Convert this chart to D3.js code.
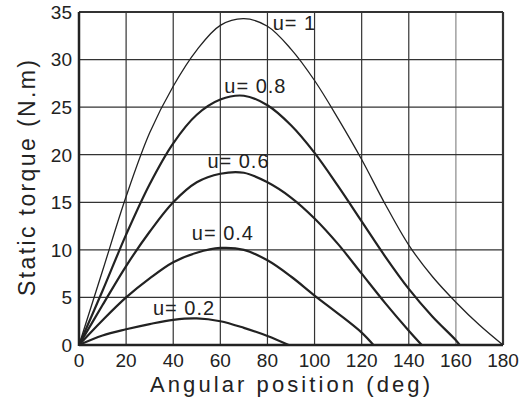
<!DOCTYPE html>
<html>
<head>
<meta charset="utf-8">
<script src="https://cdn.jsdelivr.net/npm/d3@7"></script>
<style>
  body { margin: 0; background: #fff; }
  text { font-family: "Liberation Sans", Arial, sans-serif; fill: #222; }
</style>
</head>
<body>
<div id="chart"></div>
<script>
// data: [angle (deg), torque (N.m)]
const u1 = [[0,0],[10,7.8],[20,15.6],[30,22.3],[40,27.2],[50,31.0],[60,33.6],[70,34.3],[80,33.5],[90,31.1],[100,27.8],[110,23.8],[120,19.5],[130,14.8],[140,10.5],[150,7.2],[160,4.5],[170,2.1],[180,0]];
const u08 = [[0,0],[10,5.7],[20,11.6],[30,16.9],[40,21.2],[50,24.2],[60,25.8],[70,26.2],[80,25.2],[90,23.1],[100,20.2],[110,16.7],[120,13.0],[130,9.3],[140,5.9],[150,3.0],[160,0.5],[161.6,0]];
const u06 = [[0,0],[10,4.2],[20,8.3],[30,11.9],[40,15.0],[50,17.1],[60,18.0],[70,18.1],[80,17.1],[90,15.5],[100,13.3],[110,10.6],[120,7.5],[130,4.4],[140,1.5],[145.5,0]];
const u04 = [[0,0],[10,2.6],[20,5.0],[30,7.0],[40,8.7],[50,9.7],[60,10.2],[70,10.0],[80,8.9],[90,7.2],[100,5.2],[110,3.3],[120,1.3],[125,0]];
const u02 = [[0,0],[10,1.0],[20,1.65],[30,2.2],[40,2.65],[50,2.8],[60,2.5],[70,1.8],[80,0.95],[89,0]];

const seriesNames = ["u= 1", "u= 0.8", "u= 0.6", "u= 0.4", "u= 0.2"];
const seriesData = [u1, u08, u06, u04, u02];
// label anchor in data units (angle, torque)
const labelAt = [[82.2,33.1],[61.7,26.5],[54.5,18.6],[47.9,11.0],[31.4,3.15]];

const xTicks = [0,20,40,60,80,100,120,140,160,180];
const yTicks = [0,5,10,15,20,25,30,35];

const W = 521, H = 405;
const m = { left: 79, right: 503, top: 12, bottom: 345 };

const svg = d3.select("#chart").append("svg")
  .attr("width", W).attr("height", H);

const x = d3.scaleLinear().domain([0, 180]).range([m.left, m.right]);
const y = d3.scaleLinear().domain([0, 35]).range([m.bottom, m.top]);

// grid
svg.append("g").selectAll("line").data(xTicks.slice(1, -1)).join("line")
  .attr("x1", d => x(d)).attr("x2", d => x(d))
  .attr("y1", m.top).attr("y2", m.bottom)
  .attr("stroke", d => d === 160 ? "#8a8a8a" : "#333")
  .attr("stroke-width", 1.2);
svg.append("g").selectAll("line").data(yTicks.slice(1, -1)).join("line")
  .attr("x1", m.left).attr("x2", m.right)
  .attr("y1", d => y(d)).attr("y2", d => y(d))
  .attr("stroke", "#333").attr("stroke-width", 1.2);

// frame
svg.append("line").attr("x1", m.left).attr("x2", m.right).attr("y1", m.top).attr("y2", m.top)
  .attr("stroke", "#333").attr("stroke-width", 1.8);
svg.append("line").attr("x1", m.right).attr("x2", m.right).attr("y1", m.top).attr("y2", m.bottom)
  .attr("stroke", "#333").attr("stroke-width", 2.2);
svg.append("line").attr("x1", m.left).attr("x2", m.left).attr("y1", m.top).attr("y2", m.bottom + 1)
  .attr("stroke", "#222").attr("stroke-width", 2.5);
svg.append("line").attr("x1", m.left).attr("x2", m.right).attr("y1", m.bottom).attr("y2", m.bottom)
  .attr("stroke", "#222").attr("stroke-width", 2.5);

// curves
const line = d3.line()
  .x(d => x(d[0])).y(d => y(d[1]))
  .curve(d3.curveCatmullRom.alpha(0.5));

svg.append("g").selectAll("path").data(seriesData).join("path")
  .attr("d", line)
  .attr("fill", "none")
  .attr("stroke", "#222")
  .attr("stroke-width", (d, i) => i === 0 ? 1.3 : 2.2);

// curve labels
svg.append("g").selectAll("text").data(seriesNames).join("text")
  .attr("x", (d, i) => x(labelAt[i][0]))
  .attr("y", (d, i) => y(labelAt[i][1]))
  .attr("font-size", 20)
  .attr("letter-spacing", 1)
  .text(d => d);

// y tick labels
svg.append("g").selectAll("text").data(yTicks).join("text")
  .attr("x", 72).attr("y", d => y(d))
  .attr("dy", "0.36em")
  .attr("text-anchor", "end")
  .attr("font-size", 19)
  .text(d => d);

// x tick labels
svg.append("g").selectAll("text").data(xTicks).join("text")
  .attr("x", d => x(d)).attr("y", 367)
  .attr("text-anchor", "middle")
  .attr("font-size", 19)
  .text(d => d);

// axis titles
svg.append("text")
  .attr("x", 290).attr("y", 392)
  .attr("text-anchor", "middle")
  .attr("font-size", 22)
  .attr("textLength", 280)
  .text("Angular position (deg)");

svg.append("text")
  .attr("transform", "translate(35,178) rotate(-90)")
  .attr("text-anchor", "middle")
  .attr("font-size", 23)
  .attr("textLength", 236)
  .text("Static torque (N.m)");
</script>
</body>
</html>
